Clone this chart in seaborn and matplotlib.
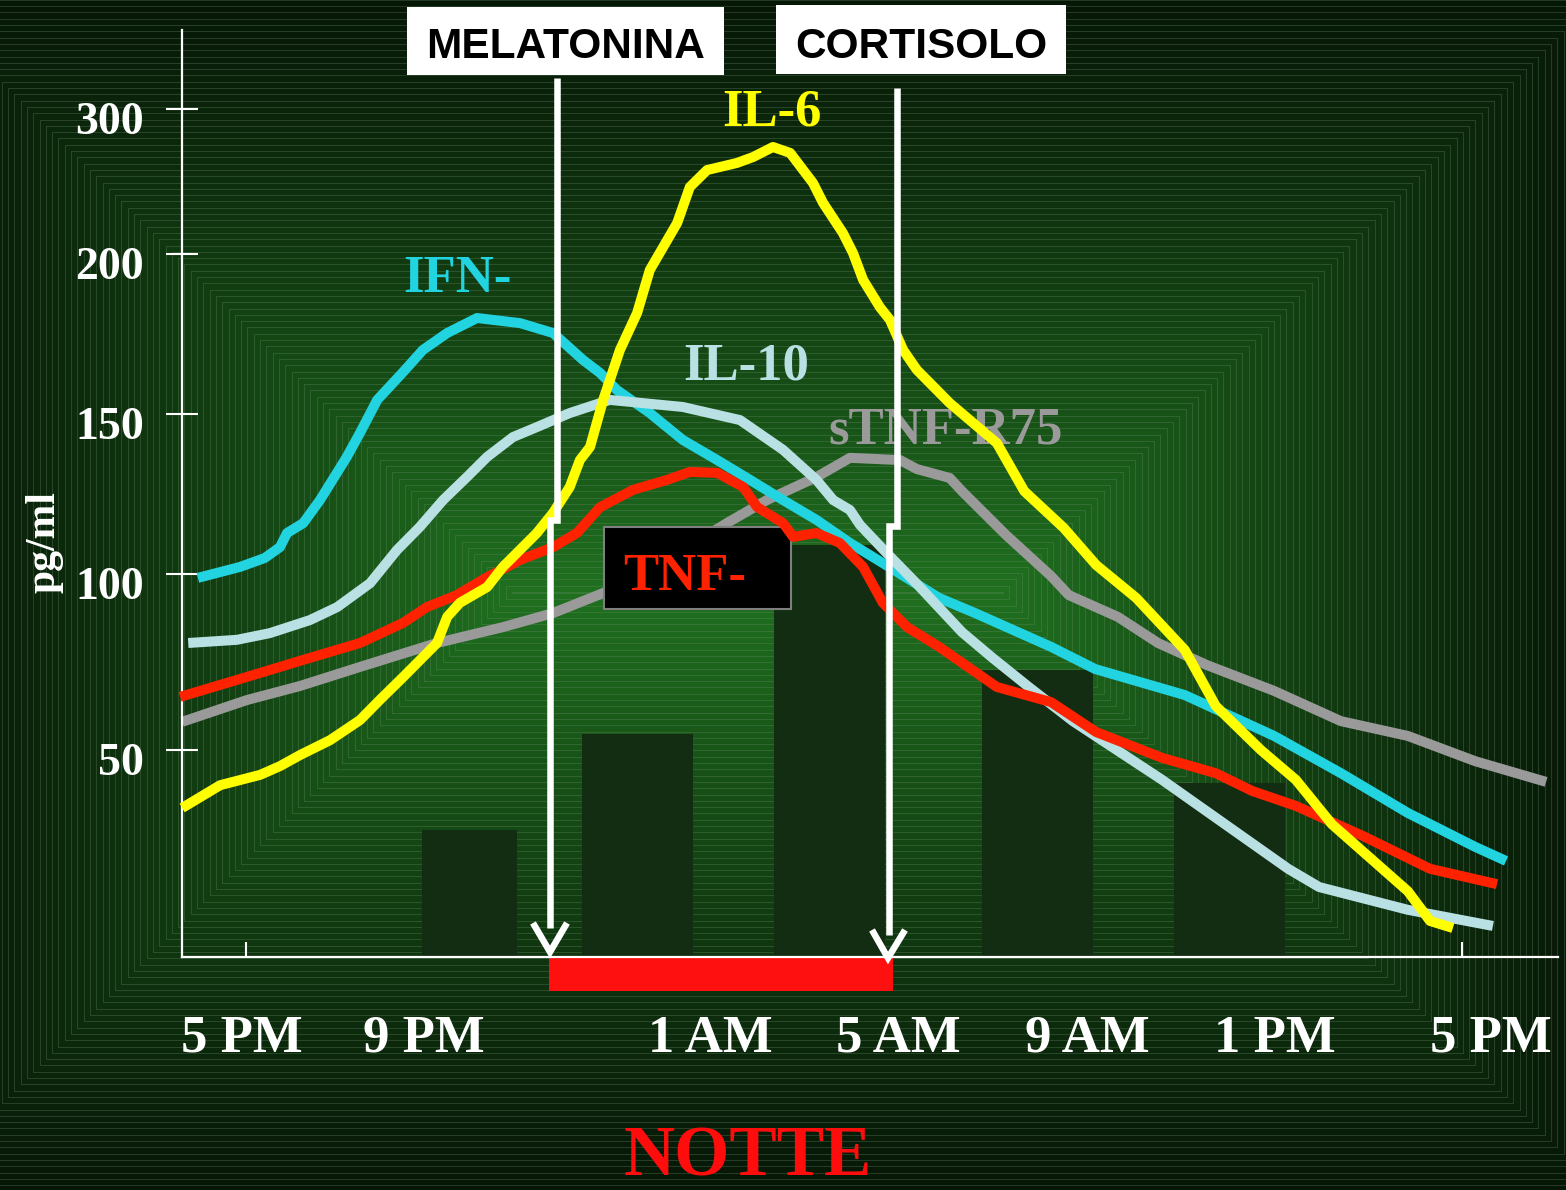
import numpy as np
import pandas as pd
import matplotlib
matplotlib.use("Agg")
import matplotlib.pyplot as plt
import seaborn as sns
from matplotlib.patches import Rectangle
from matplotlib.lines import Line2D
from matplotlib.ticker import NullLocator
from matplotlib.transforms import blended_transform_factory, ScaledTranslation

# ---------------- data (x = hours after 5 PM, y = pg/ml) ----------------
IFN_H = [-0.95, -0.12, 0.37, 0.67, 0.81, 1.13, 1.46, 1.99, 2.25, 2.59, 3.10, 3.49, 3.97, 4.56,
         5.41, 6.06, 6.65, 6.99, 7.32, 7.97, 8.62, 9.30, 9.95, 10.60, 11.26, 11.92, 12.57,
         13.68, 14.39, 15.89, 16.76, 18.53, 20.29, 21.61, 22.93, 24.26, 24.87]
IFN_V = [98.9, 102.2, 105.0, 108.4, 112.8, 115.9, 123.1, 136.6, 144.1, 154.4, 163.1, 170.0, 175.3, 180.0,
         178.4, 175.3, 166.9, 162.8, 157.5, 150.3, 141.9, 135.6, 129.4, 123.1, 116.9, 109.7, 103.4,
         93.2, 88.9, 79.3, 73.0, 65.6, 54.0, 44.4, 34.8, 26.6, 23.2]

IL6_H = [-1.26, -0.51, 0.28, 0.67, 1.07, 1.66, 2.25, 2.64, 3.10, 3.77, 3.97, 4.22, 4.76, 5.07,
         5.74, 6.06, 6.39, 6.59, 6.79, 7.05, 7.38, 7.72, 7.97, 8.51, 8.76, 9.10, 9.69, 10.01,
         10.40, 10.74, 11.19, 11.39, 11.78, 11.98, 12.18, 12.51, 12.71, 12.97, 13.24, 13.89,
         14.21, 14.82, 15.36, 16.14, 16.78, 17.57, 18.53, 19.14, 20.03, 20.72, 21.43, 22.93,
         23.37, 23.82]
IL6_V = [36.0, 41.5, 44.0, 46.1, 48.8, 52.8, 58.5, 64.2, 70.7, 80.4, 87.8, 91.8, 96.3, 102.2,
         112.8, 119.1, 127.2, 135.6, 139.7, 154.4, 170.0, 181.6, 195.0, 221.4, 246.2, 257.9, 262.8, 266.9,
         273.8, 269.7, 249.0, 235.2, 214.5, 200.7, 191.9, 183.4, 179.4, 170.0, 163.8, 153.4,
         149.1, 140.9, 125.9, 114.4, 102.8, 93.2, 78.4, 62.5, 50.0, 42.8, 32.1, 15.9,
         8.7, 7.0]

IL10_H = [-1.14, -0.18, 0.47, 1.26, 1.80, 2.45, 2.98, 3.43, 3.89, 4.36, 4.76, 5.27, 5.74, 6.39,
          7.18, 8.62, 9.75, 10.60, 11.26, 11.59, 11.92, 12.12, 12.36, 12.57, 13.24, 14.13, 14.74,
          15.45, 16.32, 18.08, 20.57, 21.18, 22.93, 24.61]
IL10_V = [80.4, 81.3, 83.2, 86.9, 90.6, 97.4, 107.5, 114.7, 123.1, 130.3, 136.6, 142.8, 145.9, 150.3,
          154.4, 152.2, 148.1, 138.8, 129.4, 123.1, 120.0, 115.3, 111.3, 107.8, 97.2, 83.5, 76.1,
          67.9, 58.2, 42.8, 21.3, 16.9, 11.4, 7.5]

TNF_H = [-1.30, -0.18, 1.13, 2.25, 3.10, 3.57, 4.16, 4.76, 5.41, 6.06, 6.53, 6.99, 7.64, 8.31,
         8.76, 9.30, 9.81, 10.09, 10.60, 10.80, 11.26, 11.72, 12.18, 12.57, 13.05, 13.68, 14.82,
         15.89, 16.78, 18.08, 19.14, 19.86, 20.72, 22.05, 23.37, 24.69]
TNF_V = [65.1, 69.9, 75.6, 80.4, 86.1, 90.6, 94.0, 99.1, 104.4, 108.4, 112.8, 120.9, 126.3, 129.4,
         131.9, 131.6, 127.2, 120.9, 115.9, 111.6, 112.8, 109.7, 102.2, 91.8, 84.9, 79.3, 67.9,
         63.6, 55.1, 48.1, 44.4, 40.1, 36.5, 29.2, 21.3, 17.6]

STNF_H = [-1.26, 0.02, 1.07, 2.25, 3.77, 5.07, 6.06, 7.05, 7.97, 9.49, 10.28, 11.26, 11.92, 12.91,
          13.24, 13.89, 14.13, 15.00, 15.89, 16.24, 17.21, 18.00, 18.97, 20.29, 21.61, 22.93,
          24.26, 25.66]
STNF_V = [58.0, 64.2, 68.2, 73.6, 80.4, 84.9, 88.9, 94.6, 101.3, 115.9, 123.1, 130.3, 136.3, 135.6,
          132.8, 130.0, 125.9, 112.2, 99.4, 94.0, 87.8, 80.4, 74.1, 66.8, 58.2, 54.0,
          47.3, 42.3]

BAR_H = [4.41, 7.73, 11.52, 15.62, 19.41]
BAR_V = [30.7, 54.5, 109.1, 72.7, 42.0]
BAR_W = [1.875, 2.19, 2.19, 2.19, 2.19]

NIGHT = (5.98, 12.77)

Y_TICKS = [50, 100, 150, 200, 300]
Y_LABELS = ["50", "100", "150", "200", "300"]
X_TICK_POS = [-0.08, 3.51, 9.16, 12.87, 16.60, 20.31, 24.57]
X_LABELS = ["5 PM", "9 PM", "1 AM", "5 AM", "9 AM", "1 PM", "5 PM"]

# ---------------- figure ----------------
sns.set_theme(style="ticks")
plt.rcParams["font.family"] = ["Liberation Serif", "DejaVu Serif"]

W, H, DPI = 1566, 1190, 100
fig = plt.figure(figsize=(W / DPI, H / DPI), dpi=DPI)


def fx(px):
    return px / W


def fy(py):
    return 1 - py / H


# background: rectangular concentric gradient
bg = fig.add_axes([0, 0, 1, 1], zorder=0)
yy, xx = np.mgrid[0:H, 0:W].astype(float) + 0.5
d = np.maximum(np.maximum(np.abs(xx - 758) - 245, 0), np.abs(yy - 593))
t = np.clip(1 - d / 660, 0, 1) ** 1.2
bright = np.array([0.125, 0.44, 0.125])
dark = np.array([0.02, 0.065, 0.02])
img = dark + (bright - dark) * t[..., None]
ln = np.mod(d, 6.3) < 1.0
img[ln] = img[ln] * 0.7 + np.array([0.42, 0.55, 0.42]) * 0.3
bg.imshow(img, extent=(0, W, H, 0), aspect="auto", interpolation="nearest")
bg.set_xlim(0, W)
bg.set_ylim(H, 0)
bg.axis("off")

# main axes
ax = fig.add_axes([fx(182), fy(957), (1558 - 182) / W, (957 - 30) / H], zorder=1)
ax.patch.set_alpha(0)

Y_KNOTS = np.array([-300.0, 0, 50, 100, 150, 200, 300, 700])
Y_POS = np.array([-1242.0, 0, 207, 383, 543, 703, 848, 848 + 400 * 1.45])
ax.set_yscale("function", functions=(lambda v: np.interp(v, Y_KNOTS, Y_POS),
                                     lambda p: np.interp(p, Y_POS, Y_KNOTS)))
ax.set_xlim((182 - 246) / 50.667, (1558 - 246) / 50.667)
ax.set_ylim(0, 300 + 79 / 1.45)

# bars
ax.bar(BAR_H, BAR_V, width=BAR_W, color="#122d12", linewidth=0, zorder=1)

# night bar below the axis
ax.add_patch(Rectangle((NIGHT[0], -34 / 927), NIGHT[1] - NIGHT[0], 33 / 927,
                       transform=blended_transform_factory(ax.transData, ax.transAxes),
                       facecolor="#ff1010", edgecolor="none", clip_on=False, zorder=1.5))

series = [
    (STNF_H, STNF_V, "#9a9a9a", 2.0),
    (IFN_H, IFN_V, "#22d3e0", 3.0),
    (IL10_H, IL10_V, "#b9e0e3", 3.2),
    (TNF_H, TNF_V, "#ff2200", 4.0),
    (IL6_H, IL6_V, "#ffff00", 5.0),
]
for hx, vy, col, z in series:
    df = pd.DataFrame({"h": hx, "v": vy})
    sns.lineplot(data=df, x="h", y="v", ax=ax, color=col, linewidth=7.2, estimator=None,
                 legend=False, zorder=z, clip_on=False, solid_capstyle="butt",
                 solid_joinstyle="round")

ax.set_xlabel("")
ax.set_ylabel("")

# TNF box (between gray and red lines)
ax.add_artist(Rectangle((fx(604), fy(609)), (791 - 604) / W, (609 - 527) / H,
                        transform=fig.transFigure, facecolor="black", edgecolor="#7f7f7f",
                        linewidth=1.5, clip_on=False, zorder=2.5))

# series labels (under the lines)
lab_kw = dict(transform=fig.transFigure, fontsize=38, fontweight="bold", va="baseline",
              ha="left", clip_on=False, zorder=2.7)
ax.text(fx(403), fy(292), "IFN-", color="#22d3e0", **lab_kw)
ax.text(fx(722), fy(126), "IL-6", color="#ffff00", **lab_kw)
ax.text(fx(683), fy(380), "IL-10", color="#b9e0e3", **lab_kw)
ax.text(fx(828), fy(443), "sTNF-R75", color="#9a9a9a", **lab_kw)
ax.text(fx(623), fy(590), "TNF-", color="#ff2200", **lab_kw)

# spines & ticks
for s in ["top", "right"]:
    ax.spines[s].set_visible(False)
for s in ["left", "bottom"]:
    ax.spines[s].set_color("white")
    ax.spines[s].set_linewidth(1.6)

ax.set_yticks(Y_TICKS)
ax.set_yticklabels(Y_LABELS, fontsize=33, fontweight="bold", color="white")
ax.yaxis.set_minor_locator(NullLocator())
ax.tick_params(axis="y", direction="inout", length=23, width=1.5, color="white", pad=15.9)
off = ScaledTranslation(0, -9 / DPI, fig.dpi_scale_trans)
for lab in ax.get_yticklabels():
    lab.set_transform(lab.get_transform() + off)

ax.set_xticks([0, 24])
ax.set_xticklabels(["", ""])
ax.xaxis.set_minor_locator(NullLocator())
ax.tick_params(axis="x", direction="in", length=11, width=1.5, color="white")

xt = blended_transform_factory(ax.transData, ax.transAxes) + \
    ScaledTranslation(0, -95 / DPI, fig.dpi_scale_trans)
for pos, lab in zip(X_TICK_POS, X_LABELS):
    ax.text(pos, 0, lab, transform=xt, ha="center", va="baseline", fontsize=38,
            fontweight="bold", color="white", clip_on=False)

# y label
fig.text(fx(45), fy(542), "pg/ml", rotation=90, ha="center", va="center", fontsize=30,
         fontweight="bold", color="white")

# header boxes
fig.add_artist(Rectangle((fx(407), fy(75)), (724 - 407) / W, (75 - 7) / H,
                         transform=fig.transFigure, facecolor="white", edgecolor="none", zorder=5))
fig.add_artist(Rectangle((fx(776), fy(74)), (1066 - 776) / W, (74 - 5) / H,
                         transform=fig.transFigure, facecolor="white", edgecolor="none", zorder=5))
box_kw = dict(ha="center", va="baseline", fontsize=30.5, fontweight="bold", color="black",
              family=["Liberation Sans", "DejaVu Sans"], zorder=6)
fig.text(fx(566), fy(58.5), "MELATONINA", **box_kw)
fig.text(fx(921), fy(58), "CORTISOLO", **box_kw)

# arrows
arr_kw = dict(transform=fig.transFigure, color="white", linewidth=4.7,
              solid_joinstyle="miter", solid_capstyle="butt", zorder=4)
fig.add_artist(Line2D([fx(557), fx(557), fx(550), fx(550)],
                      [fy(78), fy(520), fy(520), fy(928)], **arr_kw))
fig.add_artist(Line2D([fx(533), fx(550), fx(567)], [fy(923), fy(952), fy(923)], **arr_kw))
fig.add_artist(Line2D([fx(897), fx(897), fx(889), fx(889)],
                      [fy(88), fy(526), fy(526), fy(935)], **arr_kw))
fig.add_artist(Line2D([fx(872), fx(888), fx(905)], [fy(930), fy(958), fy(930)], **arr_kw))

# NOTTE
fig.text(fx(748), fy(1175), "NOTTE", ha="center", va="baseline", fontsize=51,
         fontweight="bold", color="#ff0d0d")

fig.savefig("out.png", dpi=DPI)
